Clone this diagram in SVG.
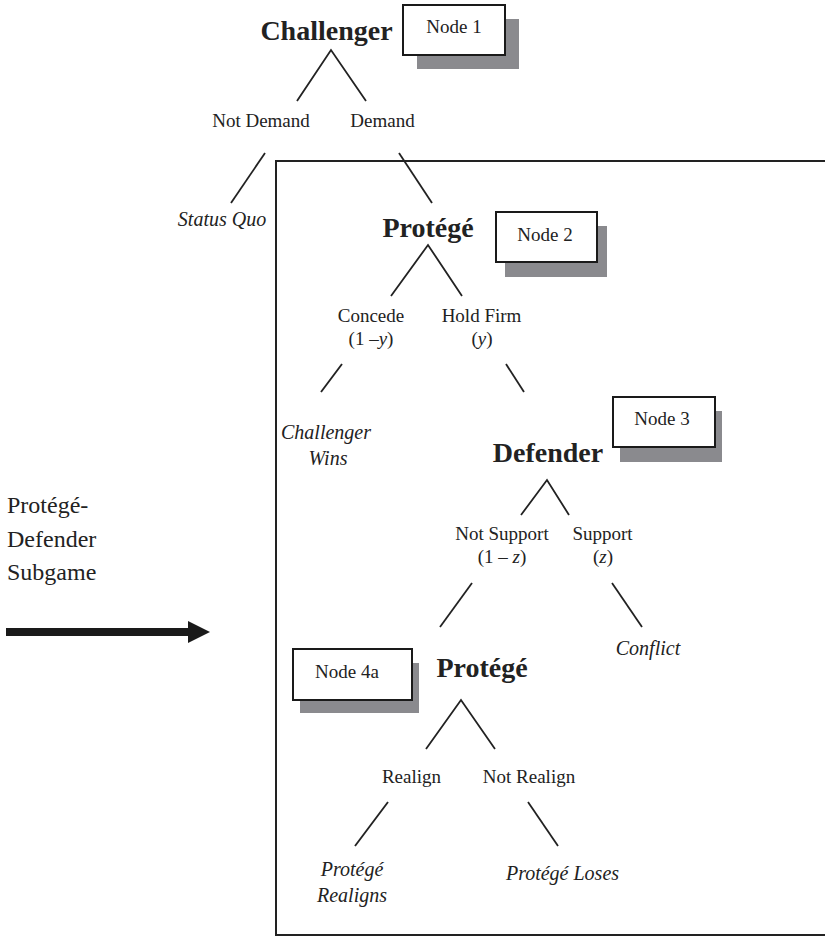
<svg xmlns="http://www.w3.org/2000/svg" width="825" height="937" viewBox="0 0 825 937">
<style>
text{font-family:"Liberation Serif","Times New Roman",serif;fill:#222;text-anchor:middle}
.player{font-size:28px;font-weight:bold}
.lbl{font-size:19px}
.out{font-size:20px;font-style:italic}
.nodebox{fill:#fff;stroke:#1a1a1a;stroke-width:2}
.shadow{fill:#8a8a8e}
.edge{stroke:#222;stroke-width:1.8;fill:none}
.side{font-size:24px;text-anchor:start}
</style>
<rect x="276" y="161" width="560" height="774" fill="none" stroke="#222" stroke-width="2"/>
<g id="connectors">
<polyline class="edge" points="297,101 331,50 366,101"/>
<line class="edge" x1="265" y1="153" x2="231" y2="203"/>
<line class="edge" x1="399" y1="153" x2="432" y2="203"/>
<polyline class="edge" points="391,296 428,245 462,296"/>
<line class="edge" x1="342" y1="364" x2="321" y2="392"/>
<line class="edge" x1="506" y1="364" x2="524" y2="392"/>
<polyline class="edge" points="521,515 547,480 569,515"/>
<line class="edge" x1="472" y1="583" x2="440" y2="627"/>
<line class="edge" x1="612" y1="583" x2="642" y2="627"/>
<polyline class="edge" points="426,749 461,700 495,749"/>
<line class="edge" x1="388" y1="802" x2="355" y2="846"/>
<line class="edge" x1="528" y1="802" x2="558" y2="846"/>
</g>
<g id="node1">
<text class="player" x="326.5" y="40">Challenger</text>
<rect class="shadow" x="417" y="19" width="102" height="50"/>
<rect class="nodebox" x="403" y="5" width="102" height="50"/>
<text class="lbl" x="454" y="33">Node 1</text>
<text class="lbl" x="261" y="127">Not Demand</text>
<text class="lbl" x="382.5" y="127">Demand</text>
</g>
<g id="statusquo"><text class="out" x="222" y="226">Status Quo</text></g>
<g id="node2">
<text class="player" x="428" y="237">Protégé</text>
<rect class="shadow" x="505" y="226" width="102" height="51"/>
<rect class="nodebox" x="496" y="212" width="101" height="50"/>
<text class="lbl" x="545" y="241">Node 2</text>
<text class="lbl" x="371" y="322">Concede</text>
<text class="lbl" x="371" y="345">(1 –<tspan font-style="italic">y</tspan>)</text>
<text class="lbl" x="481.5" y="322">Hold Firm</text>
<text class="lbl" x="482" y="345">(<tspan font-style="italic">y</tspan>)</text>
</g>
<g id="challengerwins">
<text class="out" x="326" y="439">Challenger</text>
<text class="out" x="328" y="465">Wins</text>
</g>
<g id="node3">
<text class="player" x="548" y="462">Defender</text>
<rect class="shadow" x="620" y="411" width="102" height="51"/>
<rect class="nodebox" x="613" y="397" width="102" height="50"/>
<text class="lbl" x="662" y="425">Node 3</text>
<text class="lbl" x="502" y="540">Not Support</text>
<text class="lbl" x="502" y="563">(1 – <tspan font-style="italic">z</tspan>)</text>
<text class="lbl" x="602.5" y="540">Support</text>
<text class="lbl" x="603" y="563">(<tspan font-style="italic">z</tspan>)</text>
</g>
<g id="conflict"><text class="out" x="648" y="655">Conflict</text></g>
<g id="node4a">
<text class="player" x="482" y="677">Protégé</text>
<rect class="shadow" x="300" y="663" width="119" height="50"/>
<rect class="nodebox" x="293" y="649" width="119" height="51"/>
<text class="lbl" x="347" y="678">Node 4a</text>
<text class="lbl" x="411.5" y="783">Realign</text>
<text class="lbl" x="529" y="783">Not Realign</text>
</g>
<g id="realigns">
<text class="out" x="352" y="876">Protégé</text>
<text class="out" x="352" y="902">Realigns</text>
</g>
<g id="loses"><text class="out" x="562.5" y="880">Protégé Loses</text></g>
<g id="subgame">
<text class="side" x="7" y="513">Protégé-</text>
<text class="side" x="7" y="547">Defender</text>
<text class="side" x="7" y="580">Subgame</text>
<rect x="6" y="628" width="183" height="8" fill="#1a1a1a"/>
<polygon points="188,621 210,632 188,643" fill="#1a1a1a"/>
</g>
</svg>
